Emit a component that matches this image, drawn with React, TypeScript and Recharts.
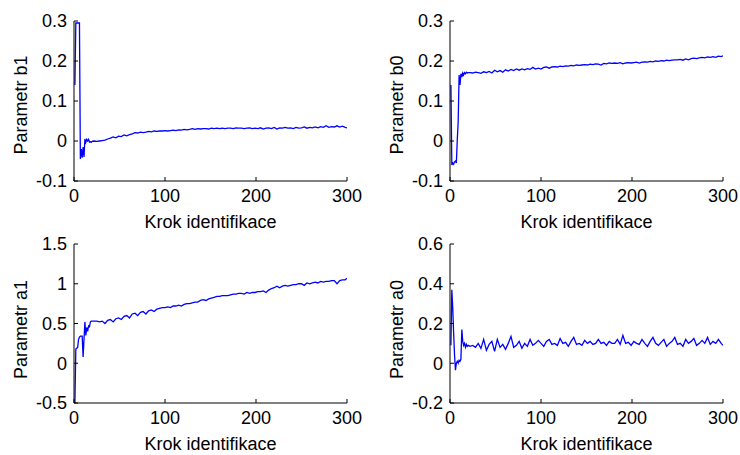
import React from 'react';
import { LineChart, Line, XAxis, YAxis, Label } from 'recharts';

// Identification steps (x positions of the sampled estimates)
const steps = [
  1, 2, 3, 4, 5, 6, 7, 8, 9, 10, 11, 12, 13, 14, 15, 16, 17, 18, 19, 20,
  22, 25, 28, 31, 34, 37, 40, 43, 46, 49, 52, 55, 58, 61, 64, 67, 70, 73, 76, 79, 82, 85, 88, 91, 94, 97,
  100, 103, 106, 109, 112, 115, 118, 121, 124, 127, 130, 133, 136, 139, 142, 145, 148, 151, 154, 157, 160, 163, 166, 169, 172, 175, 178, 181, 184, 187, 190, 193, 196, 199,
  202, 205, 208, 211, 214, 217, 220, 223, 226, 229, 232, 235, 238, 241, 244, 247, 250, 253, 256, 259, 262, 265, 268, 271, 274, 277, 280, 283, 286, 289, 292, 295, 298,
  300,
];

const b1Values = [
  0.14, 0.295, 0.295, 0.295, 0.295, 0.295, -0.045, -0.02, -0.042, -0.015, -0.04, 0.005, -0.003, 0.004, 0.0, 0.004, -0.003, -0.002, -0.003, -0.001,
  0.0, -0.001, 0.0, 0.001, 0.002, 0.005, 0.007, 0.01, 0.008, 0.012, 0.011, 0.015, 0.013, 0.016, 0.018, 0.021, 0.02, 0.022, 0.021, 0.022, 0.024, 0.023, 0.025, 0.024, 0.025, 0.025,
  0.026, 0.025, 0.026, 0.027, 0.026, 0.028, 0.027, 0.029, 0.028, 0.029, 0.031, 0.029, 0.031, 0.03, 0.031, 0.031, 0.03, 0.032, 0.031, 0.032, 0.031, 0.032, 0.031, 0.032, 0.032, 0.031, 0.033, 0.032, 0.032, 0.031, 0.032, 0.033, 0.031, 0.032,
  0.031, 0.033, 0.03, 0.032, 0.033, 0.031, 0.034, 0.03, 0.033, 0.032, 0.034, 0.032, 0.033, 0.031, 0.034, 0.032, 0.033, 0.035, 0.032, 0.034, 0.033, 0.035, 0.033, 0.036, 0.034, 0.038, 0.034, 0.036, 0.035, 0.038, 0.035, 0.037, 0.034,
  0.033,
];

const b0Values = [
  0.14, -0.06, -0.055, -0.058, -0.052, -0.05, -0.055, 0.003, 0.048, 0.165, 0.14, 0.168, 0.16, 0.17, 0.165, 0.171, 0.168, 0.172, 0.17, 0.171,
  0.171, 0.17, 0.172, 0.171, 0.169, 0.173, 0.171, 0.174, 0.17, 0.177, 0.173, 0.176, 0.172, 0.178, 0.175, 0.179, 0.176, 0.18, 0.177, 0.18, 0.178, 0.181, 0.179, 0.184, 0.18, 0.182,
  0.18, 0.184, 0.185, 0.182, 0.185, 0.186, 0.185, 0.187, 0.186, 0.188, 0.187, 0.189, 0.188, 0.19, 0.189, 0.19, 0.191, 0.19, 0.192, 0.191, 0.193, 0.192, 0.19, 0.194, 0.193, 0.195, 0.194, 0.195, 0.194, 0.196, 0.193, 0.195, 0.196, 0.195,
  0.196, 0.197, 0.195, 0.197, 0.198, 0.197, 0.199, 0.198, 0.2, 0.199, 0.201, 0.2, 0.202, 0.201, 0.202, 0.203, 0.203, 0.204, 0.202, 0.205, 0.203, 0.206, 0.207, 0.206, 0.208, 0.209, 0.208, 0.21, 0.209, 0.211, 0.209, 0.212, 0.211,
  0.213,
];

const a1Values = [
  -0.5, 0.18, 0.19, 0.2, 0.3, 0.33, 0.34, 0.34, 0.34, 0.08, 0.3, 0.52, 0.35, 0.45, 0.4, 0.47, 0.46, 0.52, 0.53, 0.53,
  0.53, 0.53, 0.52, 0.53, 0.5, 0.54, 0.55, 0.52, 0.56, 0.57, 0.55, 0.59, 0.6, 0.57, 0.62, 0.63, 0.6, 0.64, 0.65, 0.62, 0.66, 0.67, 0.65, 0.68, 0.69, 0.7,
  0.7, 0.71, 0.7, 0.72, 0.72, 0.73, 0.72, 0.74, 0.75, 0.75, 0.76, 0.77, 0.77, 0.79, 0.8, 0.79, 0.81, 0.82, 0.83, 0.84, 0.84, 0.85, 0.85, 0.85, 0.86, 0.87, 0.87, 0.88, 0.88, 0.87, 0.89, 0.88, 0.89, 0.89,
  0.9, 0.9, 0.91, 0.89, 0.92, 0.94, 0.95, 0.97, 0.95, 0.97, 0.98, 0.97, 0.98, 0.99, 0.99, 1.0, 1.0, 0.98, 1.01, 1.0, 1.01, 1.02, 1.01, 1.03, 1.02, 1.03, 1.03, 1.04, 1.04, 1.0, 1.04, 1.05, 1.05,
  1.07,
];

const a0Values = [
  0.09, 0.37, 0.28, 0.15, 0.04, -0.035, 0.0, 0.01, 0.0, 0.015, 0.01, 0.02, 0.17, 0.11, 0.09, 0.1, 0.08, 0.095, 0.085, 0.09,
  0.085, 0.09, 0.08, 0.1, 0.075, 0.12, 0.065, 0.095, 0.11, 0.06, 0.12, 0.08, 0.095, 0.07, 0.1, 0.135, 0.08, 0.09, 0.11, 0.075, 0.1, 0.085, 0.12, 0.09, 0.1, 0.115,
  0.1, 0.085, 0.11, 0.12, 0.095, 0.1, 0.09, 0.125, 0.1, 0.105, 0.085, 0.11, 0.13, 0.095, 0.1, 0.09, 0.115, 0.1, 0.11, 0.095, 0.1, 0.12, 0.1, 0.105, 0.09, 0.11, 0.1, 0.1, 0.12, 0.095, 0.14, 0.1, 0.105, 0.09,
  0.11, 0.1, 0.095, 0.12, 0.1, 0.085, 0.11, 0.13, 0.1, 0.09, 0.105, 0.12, 0.085, 0.1, 0.11, 0.13, 0.095, 0.1, 0.085, 0.12, 0.1, 0.11, 0.125, 0.09, 0.1, 0.115, 0.1, 0.13, 0.095, 0.11, 0.1, 0.12, 0.1,
  0.09,
];

const xTicks = [0, 100, 200, 300];
const b1Ticks = [-0.1, 0, 0.1, 0.2, 0.3];
const b0Ticks = [-0.1, 0, 0.1, 0.2, 0.3];
const a1Ticks = [-0.5, 0, 0.5, 1, 1.5];
const a0Ticks = [-0.2, 0, 0.2, 0.4, 0.6];

const xLabelText = 'Krok identifikace';

const data = steps.map((s, i) => ({
  step: s,
  b1: b1Values[i],
  b0: b0Values[i],
  a1: a1Values[i],
  a0: a0Values[i],
}));

const FONT = '"Liberation Sans", Arial, sans-serif';
const FS = 18;

type PanelProps = {
  left: number;
  top: number;
  width: number;
  height: number;
  margin: { top: number; right: number; bottom: number; left: number };
  yAxisWidth: number;
  xAxisHeight: number;
  dataKey: string;
  domain: [number, number];
  ticks: number[];
  yLabel: string;
  yLabelShift: number;
};

function Panel(p: PanelProps) {
  const xLabelContent = (props: any) => {
    const vb = props.viewBox || {};
    return (
      <text
        x={vb.x + vb.width / 2}
        y={vb.y + 47}
        textAnchor="middle"
        fontFamily={FONT}
        fontSize={FS}
        fill="#000"
      >
        {xLabelText}
      </text>
    );
  };
  const yLabelContent = (props: any) => {
    const vb = props.viewBox || {};
    const cx = vb.x + vb.width - 47;
    const cy = vb.y + vb.height / 2 + p.yLabelShift;
    return (
      <text
        x={cx}
        y={cy}
        transform={`rotate(-90, ${cx}, ${cy})`}
        textAnchor="middle"
        fontFamily={FONT}
        fontSize={FS}
        fill="#000"
      >
        {p.yLabel}
      </text>
    );
  };
  return (
    <div style={{ position: 'absolute', left: p.left, top: p.top, width: p.width, height: p.height }}>
      <LineChart width={p.width} height={p.height} data={data} margin={p.margin}>
        <XAxis
          dataKey="step"
          type="number"
          domain={[0, 300]}
          ticks={xTicks}
          interval={0}
          height={p.xAxisHeight}
          tickSize={-4}
          tickMargin={12}
          axisLine={{ stroke: '#000', strokeWidth: 1 }}
          tickLine={{ stroke: '#000', strokeWidth: 1 }}
          tick={{ fill: '#000', fontSize: FS, fontFamily: FONT }}
          allowDataOverflow
        >
          <Label content={xLabelContent} />
        </XAxis>
        <YAxis
          type="number"
          domain={p.domain}
          ticks={p.ticks}
          interval={0}
          width={p.yAxisWidth}
          tickSize={-4}
          tickMargin={11}
          axisLine={{ stroke: '#000', strokeWidth: 1 }}
          tickLine={{ stroke: '#000', strokeWidth: 1 }}
          tick={{ fill: '#000', fontSize: FS, fontFamily: FONT }}
          allowDataOverflow
        >
          <Label content={yLabelContent} />
        </YAxis>
        <Line
          type="linear"
          dataKey={p.dataKey}
          stroke="#0000ff"
          strokeWidth={1.3}
          dot={false}
          activeDot={false}
          isAnimationActive={false}
        />
      </LineChart>
    </div>
  );
}

export default function App() {
  return (
    <div
      style={{
        position: 'absolute',
        left: 0,
        top: 0,
        width: 740,
        height: 455,
        background: '#fff',
        overflow: 'hidden',
      }}
    >
      <Panel
        left={0}
        top={0}
        width={370}
        height={240}
        margin={{ top: 21, right: 23, bottom: 0, left: 0 }}
        yAxisWidth={74}
        xAxisHeight={59}
        dataKey="b1"
        domain={[-0.1, 0.3]}
        ticks={b1Ticks}
        yLabel="Parametr b1"
        yLabelShift={4}
      />
      <Panel
        left={370}
        top={0}
        width={370}
        height={240}
        margin={{ top: 21, right: 17, bottom: 0, left: 0 }}
        yAxisWidth={80}
        xAxisHeight={59}
        dataKey="b0"
        domain={[-0.1, 0.3]}
        ticks={b0Ticks}
        yLabel="Parametr b0"
        yLabelShift={4}
      />
      <Panel
        left={0}
        top={230}
        width={370}
        height={225}
        margin={{ top: 14, right: 23, bottom: 0, left: 0 }}
        yAxisWidth={74}
        xAxisHeight={52}
        dataKey="a1"
        domain={[-0.5, 1.5]}
        ticks={a1Ticks}
        yLabel="Parametr a1"
        yLabelShift={6}
      />
      <Panel
        left={370}
        top={230}
        width={370}
        height={225}
        margin={{ top: 14, right: 17, bottom: 0, left: 0 }}
        yAxisWidth={80}
        xAxisHeight={52}
        dataKey="a0"
        domain={[-0.2, 0.6]}
        ticks={a0Ticks}
        yLabel="Parametr a0"
        yLabelShift={6}
      />
    </div>
  );
}
